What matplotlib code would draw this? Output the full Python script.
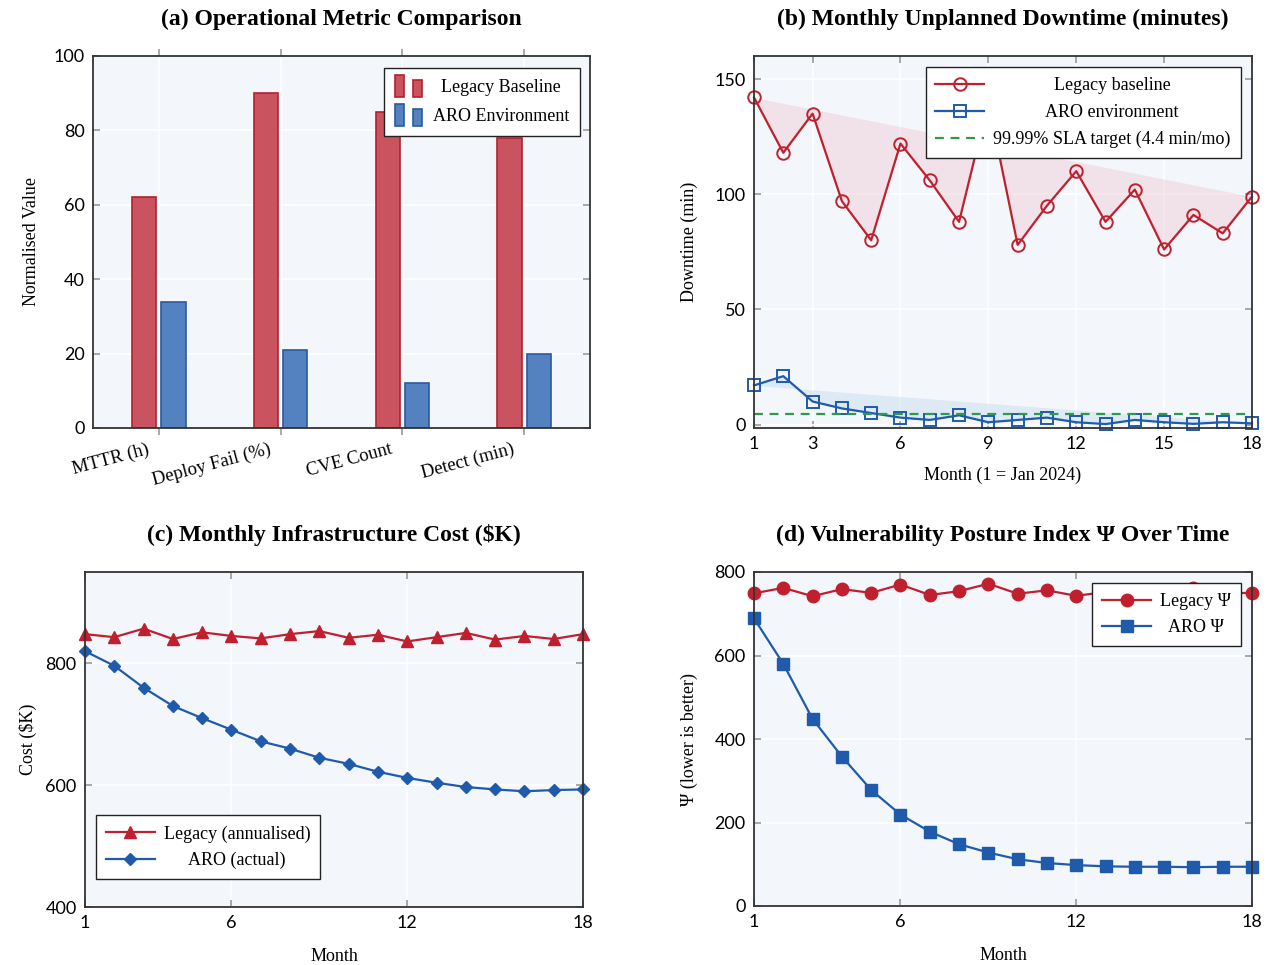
import numpy as np
import matplotlib
matplotlib.use("Agg")
import matplotlib.pyplot as plt
from matplotlib.patches import Rectangle, Patch
from matplotlib.transforms import ScaledTranslation

plt.rcParams["font.family"] = ["Liberation Serif", "DejaVu Serif"]

# ---- data ----
metrics = ["MTTR (h)", "Deploy Fail (%)", "CVE Count", "Detect (min)"]
legacy_metric = [62, 90, 85, 78]
aro_metric = [34, 21, 12, 20]

months = list(range(1, 19))
legacy_down = [142, 118, 135, 97, 80, 122, 106, 88, 140, 78, 95, 110, 88, 102, 76, 91, 83, 99]
aro_down = [17, 21, 10, 7, 5, 3, 2, 4, 1, 2, 3, 1, 0.2, 2, 1, 0.3, 1, 0.5]
sla_target = 4.4

legacy_cost = [848, 843, 857, 840, 851, 845, 841, 848, 853, 842, 847, 836, 843, 850, 839, 845, 840, 848]
aro_cost = [820, 796, 760, 730, 710, 691, 672, 660, 645, 635, 622, 612, 604, 597, 593, 590, 592, 593]

legacy_psi = [749, 762, 742, 759, 750, 770, 745, 754, 772, 748, 756, 743, 752, 758, 746, 761, 749, 750]
aro_psi = [689, 580, 448, 358, 278, 219, 178, 148, 128, 112, 103, 98, 95, 94, 94, 93, 94, 94]

# ---- style ----
BG = "#f3f7fc"
RED = "#c0202e"
BLUE = "#1f5aab"
BAR_RED = "#c9535f"
BAR_BLUE = "#5481c0"
GREEN = "#2e9a4e"
TICK_FONT = "Lato"
FS = 13


def style_axes(ax, xdir="in"):
    ax.set_facecolor(BG)
    ax.grid(True, color="white", linewidth=1.2)
    ax.set_axisbelow(True)
    for s in ax.spines.values():
        s.set_color("#333333")
        s.set_linewidth(1.3)
    ax.tick_params(axis="both", labelsize=13, labelfontfamily=TICK_FONT,
                   color="#999999", length=5, width=1.2, pad=6)
    ax.tick_params(axis="y", direction="in", left=True, right=True)
    ax.tick_params(axis="x", direction=xdir, top=True, bottom=True)


def make_legend(ax, **kw):
    opts = dict(borderaxespad=0, fontsize=FS, fancybox=False, framealpha=1,
                edgecolor="#222222", handlelength=2.7, handletextpad=0.5,
                borderpad=0.55, labelspacing=0.5)
    opts.update(kw)
    leg = ax.legend(**opts)
    leg.get_frame().set_linewidth(1.0)
    return leg


def center_legend_text(fig, leg):
    fig.canvas.draw()
    r = fig.canvas.get_renderer()
    texts = leg.get_texts()
    widths = [t.get_window_extent(r).width for t in texts]
    wmax = max(widths)
    for t, w in zip(texts, widths):
        t.set_x((wmax - w) / 2)


class TwoBarHandler:
    def legend_artist(self, legend, orig_handle, fontsize, handlebox):
        x0, y0 = handlebox.xdescent, handlebox.ydescent
        w, h = handlebox.width, handlebox.height
        fc = orig_handle.get_facecolor()
        ec = orig_handle.get_edgecolor()
        tr = handlebox.get_transform()
        r1 = Rectangle((x0, y0 - 0.4 * h), 0.3 * w, 1.75 * h, fc=fc, ec=ec, lw=1.2, transform=tr)
        r2 = Rectangle((x0 + 0.62 * w, y0 - 0.4 * h), 0.3 * w, 1.35 * h, fc=fc, ec=ec, lw=1.2, transform=tr)
        handlebox.add_artist(r1)
        handlebox.add_artist(r2)
        return r1


fig = plt.figure(figsize=(12.7, 9.65), dpi=100)
ax_a = fig.add_axes([93 / 1270, 1 - 428 / 965, 497 / 1270, 372 / 965])
ax_b = fig.add_axes([754 / 1270, 1 - 428 / 965, 498 / 1270, 372 / 965])
ax_c = fig.add_axes([85 / 1270, 1 - 907 / 965, 498 / 1270, 335 / 965])
ax_d = fig.add_axes([754 / 1270, 1 - 906 / 965, 498 / 1270, 334 / 965])

title_kw = dict(fontsize=17, fontweight="bold", pad=22)

# (a) bars
x = np.arange(len(metrics))
style_axes(ax_a, xdir="out")
ax_a.bar(x - 0.12, legacy_metric, 0.2, color=BAR_RED, edgecolor="#b5202e", linewidth=1.2)
ax_a.bar(x + 0.12, aro_metric, 0.2, color=BAR_BLUE, edgecolor="#2a5aa0", linewidth=1.2)
ax_a.set_xlim(-0.54, 3.54)
ax_a.set_ylim(0, 100)
ax_a.set_xticks(x)
ax_a.set_xticklabels(metrics, rotation=15, ha="right", rotation_mode="anchor",
                     fontfamily="Liberation Serif", fontsize=13.5)
ax_a.tick_params(axis="x", pad=4)
shift = ScaledTranslation(-9 / 72, 0, fig.dpi_scale_trans)
for lab in ax_a.get_xticklabels():
    lab.set_transform(lab.get_transform() + shift)
ax_a.set_yticks([0, 20, 40, 60, 80, 100])
ax_a.set_ylabel("Normalised Value", fontsize=FS, labelpad=10)
ax_a.set_title("(a) Operational Metric Comparison", **title_kw)
p1 = Patch(facecolor=BAR_RED, edgecolor="#b5202e")
p2 = Patch(facecolor=BAR_BLUE, edgecolor="#2a5aa0")
leg_a = make_legend(ax_a, handles=[p1, p2], labels=["Legacy Baseline", "ARO Environment"],
                    handler_map={p1: TwoBarHandler(), p2: TwoBarHandler()},
                    loc="upper right", bbox_to_anchor=(0.98, 0.968),
                    handlelength=1.6, labelspacing=0.7, borderpad=0.6)

# (b) downtime
style_axes(ax_b)
ax_b.fill_between(months, legacy_down, np.linspace(legacy_down[0], legacy_down[-1], len(months)),
                  color="#f0c8d0", alpha=0.45, linewidth=0)
ax_b.fill_between(months, aro_down, np.linspace(aro_down[0], aro_down[-1], len(months)),
                  color="#c8dcf0", alpha=0.5, linewidth=0)
ax_b.plot(months, legacy_down, color=RED, lw=1.6, marker="o", ms=9, mfc="none", mew=1.4,
          label="Legacy baseline")
ax_b.plot(months, aro_down, color=BLUE, lw=1.6, marker="s", ms=9, mfc="none", mew=1.4,
          label="ARO environment")
ax_b.axhline(sla_target, color=GREEN, lw=1.6, ls=(0, (4, 3)), label="99.99% SLA target (4.4 min/mo)")
ax_b.set_xlim(1, 18)
ax_b.set_ylim(-1.5, 160)
ax_b.set_xticks([1, 3, 6, 9, 12, 15, 18])
ax_b.set_yticks([0, 50, 100, 150])
ax_b.set_xlabel("Month (1 = Jan 2024)", fontsize=FS, labelpad=10)
ax_b.set_ylabel("Downtime (min)", fontsize=FS, labelpad=12)
ax_b.set_title("(b) Monthly Unplanned Downtime (minutes)", **title_kw)
leg_b = make_legend(ax_b, loc="upper right", bbox_to_anchor=(0.977, 0.97), labelspacing=0.55)

# (c) cost
style_axes(ax_c)
ax_c.plot(months, legacy_cost, color=RED, lw=1.6, marker="^", ms=8, label="Legacy (annualised)")
ax_c.plot(months, aro_cost, color=BLUE, lw=1.6, marker="D", ms=6.5, label="ARO (actual)")
ax_c.set_xlim(1, 18)
ax_c.set_ylim(400, 950)
ax_c.set_xticks([1, 6, 12, 18])
ax_c.set_yticks([400, 600, 800])
ax_c.set_xlabel("Month", fontsize=FS, labelpad=12)
ax_c.set_ylabel("Cost ($K)", fontsize=FS, labelpad=6)
ax_c.set_title("(c) Monthly Infrastructure Cost ($K)", **title_kw)
leg_c = make_legend(ax_c, loc="lower left", bbox_to_anchor=(0.022, 0.084))

# (d) vulnerability posture
style_axes(ax_d)
ax_d.plot(months, legacy_psi, color=RED, lw=1.6, marker="o", ms=9, label="Legacy Ψ")
ax_d.plot(months, aro_psi, color=BLUE, lw=1.6, marker="s", ms=9, label="ARO Ψ")
ax_d.set_xlim(1, 18)
ax_d.set_ylim(0, 800)
ax_d.set_xticks([1, 6, 12, 18])
ax_d.set_yticks([0, 200, 400, 600, 800])
ax_d.set_xlabel("Month", fontsize=FS, labelpad=12)
ax_d.set_ylabel("Ψ (lower is better)", fontsize=FS, labelpad=12)
ax_d.set_title("(d) Vulnerability Posture Index Ψ Over Time", **title_kw)
leg_d = make_legend(ax_d, loc="upper right", bbox_to_anchor=(0.978, 0.967))

for ax in (ax_b, ax_c, ax_d):
    for ln in ax.get_lines():
        ln.set_clip_on(False)

for leg in (leg_a, leg_b, leg_c, leg_d):
    center_legend_text(fig, leg)

fig.savefig("out.png", dpi=100)
